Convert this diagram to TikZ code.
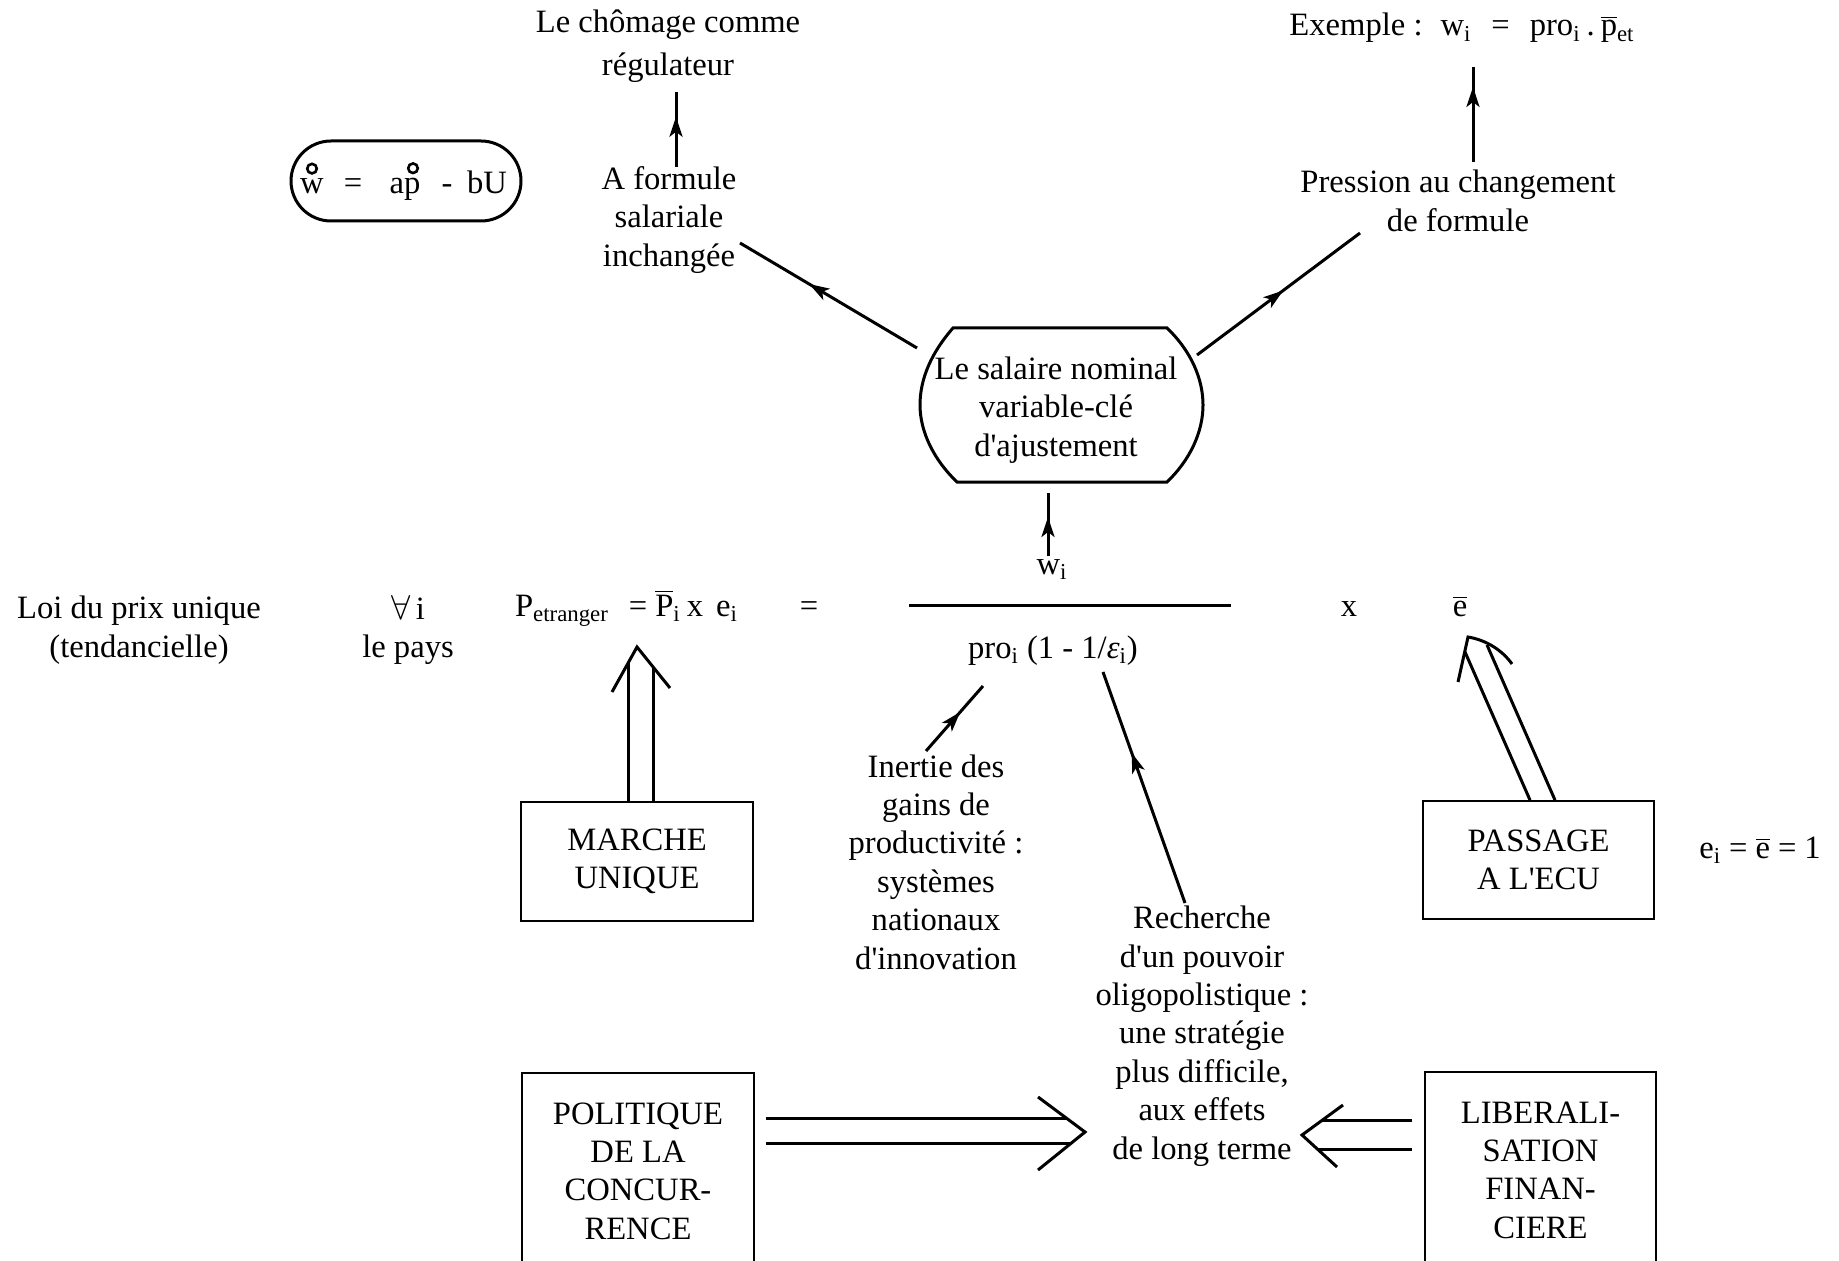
\documentclass[tikz,border=0pt]{standalone}
\usepackage{fontspec}
\setmainfont{Liberation Serif}[Ligatures=TeXOff]
\usetikzlibrary{arrows.meta,decorations.markings}
\newcommand\mainfs{\fontsize{16.3pt}{19.2pt}\selectfont}
\newcommand\sbs[1]{\textsubscript{#1}}
\begin{document}
\begin{tikzpicture}[x=0.5pt,y=-0.5pt,
  every node/.style={font=\mainfs, inner sep=0pt, align=center},
  conn/.style={line width=1.5pt},
  midarr/.style={conn, postaction={decorate}, decoration={markings, mark=at position #1 with {\arrow{Stealth[length=10pt,width=6.5pt,inset=2.5pt]}}}},
  boxnode/.style={draw, line width=0.9pt},
  pillnode/.style={draw, line width=1.5pt, rounded corners=20pt, minimum width=115pt, minimum height=40pt},
  ringmark/.style={draw, line width=1.3pt}
]
\fill[white] (0,0) rectangle (1839,1261);
\useasboundingbox (0,0) rectangle (1839,1261);

% top texts
\node[font={\fontsize{16.3pt}{21.5pt}\selectfont}] (chom) at (668,46) {Le chômage comme\\régulateur};
\node (formule) at (669,220) {A formule\\salariale\\inchangée};

% formula pill
\node[pillnode] (pill) at (406,181) {};
\node[anchor=base] (fw) at (312,194) {w};
\node[anchor=base] (feq) at (353,194) {=};
\node[anchor=base] (fap) at (405,194) {ap};
\node[anchor=base] (fmin) at (447,194) {-};
\node[anchor=base] (fbu) at (487,194) {bU};
\draw[ringmark] ([yshift=5pt]fw.north) circle[radius=2.4pt];
\draw[ringmark] ([xshift=4pt,yshift=5pt]fap.north) circle[radius=2.4pt];

\node[anchor=base] (exemple) at (1462,36) {Exemple :\hspace{9pt}w\sbs{i}\hspace{10pt}=\hspace{10pt}pro\sbs{i}\hspace{3pt}.\hspace{3pt}$\overline{\mbox{p}}$\sbs{et}};
\node (pression) at (1458,201) {Pression au changement\\de formule};

% central node
\draw[line width=1.5pt] (953,328) -- (1167,328) .. controls (1192,352) and (1203,380) .. (1203,405)
  .. controls (1203,432) and (1190,460) .. (1167,482) -- (957,482)
  .. controls (934,460) and (920,432) .. (920,405) .. controls (920,378) and (932,352) .. (953,328) -- cycle;
\node (sal) at (1056,410) {Le salaire nominal\\variable-clé\\d'ajustement};

% equation line
\node (loi) at (139,630) {Loi du prix unique\\(tendancielle)};
\node (pays) at (408,630) {$\forall$\,i\\le pays};
\node[anchor=base] (pet) at (562,616) {P\sbs{etranger}};
\node[anchor=base] (eq1) at (638,616) {=};
\node[anchor=base] (pbar) at (668,616) {$\overline{\mbox{P}}$\sbs{i}};
\node[anchor=base] (x1) at (695,616) {x};
\node[anchor=base] (ei) at (727,616) {e\sbs{i}};
\node[anchor=base] (eq2) at (809,616) {=};
\coordinate (fracL) at (909,605);
\coordinate (fracR) at (1231,605);
\draw[line width=1.5pt] (fracL) -- (fracR);
\node[anchor=base] (wi) at (1052,574) {w\sbs{i}};
\node[anchor=base] (pro) at (1053,658) {pro\sbs{i} (1 - 1/\textit{ε}\sbs{i})};
\node[anchor=base] (x2) at (1349,616) {x};
\node[anchor=base] (ebar) at (1460,616) {$\overline{\mbox{e}}$};
\node[anchor=base] (eone) at (1760,858) {e\sbs{i}\hspace{4pt}=\hspace{4pt}$\overline{\mbox{e}}$\hspace{4pt}=\hspace{4pt}1};

% lower texts
\node (inertie) at (936,862) {Inertie des\\gains de\\productivité :\\systèmes\\nationaux\\d'innovation};
\node (recherche) at (1202,1036) {Recherche\\d'un pouvoir\\oligopolistique :\\une stratégie\\plus difficile,\\aux effets\\de long terme};

% boxes
\node[boxnode, minimum width=116pt, minimum height=59.5pt] (marche) at (637,861.5) {MARCHE\\UNIQUE};
\node[boxnode, minimum width=115.5pt, minimum height=59pt] (ecu) at (1538.5,860) {PASSAGE\\A L'ECU};
\node[boxnode, minimum width=116pt, minimum height=98pt] (polit) at (638,1171) {POLITIQUE\\DE LA\\CONCUR-\\RENCE};
\node[boxnode, minimum width=115.5pt, minimum height=98pt] (liber) at (1540.5,1170) {LIBERALI-\\SATION\\FINAN-\\CIERE};

% coordinates for connector ends
\coordinate (c1s) at (676,167); \coordinate (c1e) at (676,92);
\coordinate (c2s) at (917,348); \coordinate (c2e) at (740,243);
\coordinate (c3s) at (1473,162); \coordinate (c3e) at (1473,67);
\coordinate (c4s) at (1197,355); \coordinate (c4e) at (1360,233);
\coordinate (c5s) at (1048,556); \coordinate (c5e) at (1048,493);
\coordinate (c6s) at (926,751); \coordinate (c6e) at (983,686);
\coordinate (c7s) at (1185,903); \coordinate (c7e) at (1103,672);

\draw[midarr=0.67] (c1s) -- (c1e);
\draw[midarr=0.61] (c2s) -- (c2e);
\draw[midarr=0.79] (c3s) -- (c3e);
\draw[midarr=0.53] (c4s) -- (c4e);
\draw[midarr=0.62] (c5s) -- (c5e);
\draw[midarr=0.6] (c6s) -- (c6e);
\draw[midarr=0.65] (c7s) -- (c7e);

% double arrows
\coordinate (mtip) at (637,647);
\draw[conn] ([xshift=-4.5pt]marche.north) -- (628,663);
\draw[conn] ([xshift=8pt]marche.north) -- (653,667);
\draw[conn] (612,692) -- (mtip) -- (670,688);

\coordinate (etip) at (1468,637);
\draw[conn] ([xshift=-4.25pt]ecu.north) -- (1465,652);
\draw[conn] ([xshift=8.25pt]ecu.north) -- (1487,645);
\draw[conn] (1458,682) -- (etip) .. controls (1486,640) and (1502,650) .. (1512,664);

\coordinate (ptip) at (1085,1132);
\draw[conn] ([shift={(5.5pt,26.5pt)}]polit.east) -- (1066,1118);
\draw[conn] ([shift={(5.5pt,14pt)}]polit.east) -- (1071,1143);
\draw[conn] (1038,1097) -- (ptip) -- (1038,1170);

\coordinate (ltip) at (1302,1135);
\draw[conn] ([shift={(-6pt,25pt)}]liber.west) -- (1322,1120);
\draw[conn] ([shift={(-6pt,10.5pt)}]liber.west) -- (1317,1149);
\draw[conn] (1343,1105) -- (ltip) -- (1337,1167);
\end{tikzpicture}
\end{document}
